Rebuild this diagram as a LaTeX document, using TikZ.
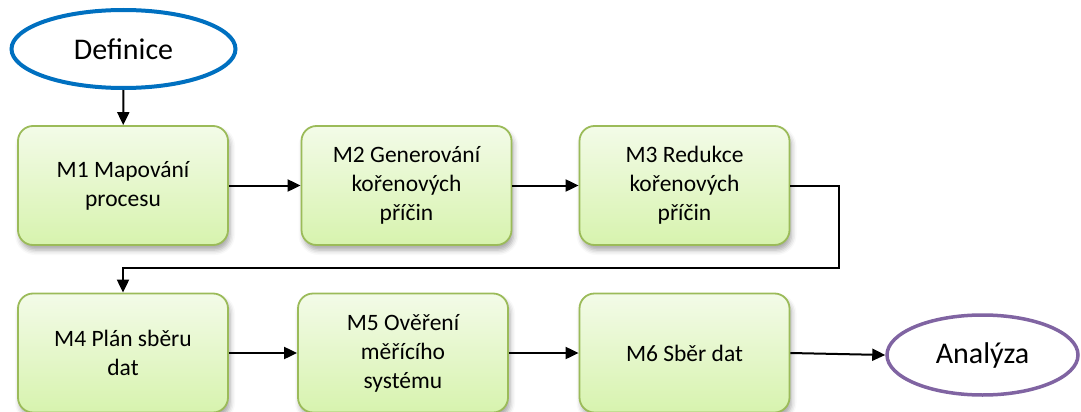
\documentclass[tikz,border=0pt]{standalone}
\usepackage{fontspec}
\setmainfont{Carlito}
\usetikzlibrary{arrows.meta,shapes.geometric,shadows.blur}
\definecolor{boxtop}{RGB}{243,251,232}
\definecolor{boxbottom}{RGB}{215,243,174}
\definecolor{boxborder}{RGB}{155,187,89}
\definecolor{startblue}{RGB}{0,112,192}
\definecolor{endpurple}{RGB}{128,100,162}
\tikzset{
  stepbox/.style={draw=boxborder, line width=1.8pt, rounded corners=15pt,
    top color=boxtop, bottom color=boxbottom,
    minimum width=210pt, minimum height=119pt, inner sep=0pt,
    align=center, font=\fontsize{23.5}{29}\selectfont,
    blur shadow={shadow xshift=2pt, shadow yshift=-5pt, shadow blur radius=5pt, shadow opacity=35}},
  terminal/.style={ellipse, line width=4pt, fill=white, inner sep=0pt,
    font=\fontsize{30}{36}\selectfont},
  flow/.style={line width=2pt, -{Triangle[length=13pt,width=12pt]}}
}
\begin{document}
\begin{tikzpicture}[x=1pt,y=-1pt]
\useasboundingbox (0,0) rectangle (1081,412);
% start and end terminals
\node[terminal, draw=startblue, minimum width=224pt, minimum height=78pt] (def) at (123.5,49) {Definice};
\node[terminal, draw=endpurple, line width=3.5pt, minimum width=191pt, minimum height=80pt] (ana) at (982.5,355) {Analýza};
% first row of steps
\node[stepbox] (m1) at (123,185.5) {M1 Mapování\\procesu};
\node[stepbox] (m2) at (406.5,185.5) {M2 Generování\\kořenových\\příčin};
\node[stepbox] (m3) at (684.5,185.5) {M3 Redukce\\kořenových\\příčin};
% second row of steps
\node[stepbox] (m4) at (123,353) {M4 Plán sběru\\dat};
\node[stepbox] (m5) at (403,353) {M5 Ověření\\měřícího\\systému};
\node[stepbox] (m6) at (684.5,353) {M6 Sběr dat};
% connectors
\coordinate (turn) at (839,268);
\draw[flow] (def) -- (m1);
\draw[flow] (m1) -- (m2);
\draw[flow] (m2) -- (m3);
\draw[flow] (m3.east) -| (turn) -| (m4.north);
\draw[flow] (m4) -- (m5);
\draw[flow] (m5) -- (m6);
\draw[flow] (m6.east) -- (ana.west);
\end{tikzpicture}
\end{document}
